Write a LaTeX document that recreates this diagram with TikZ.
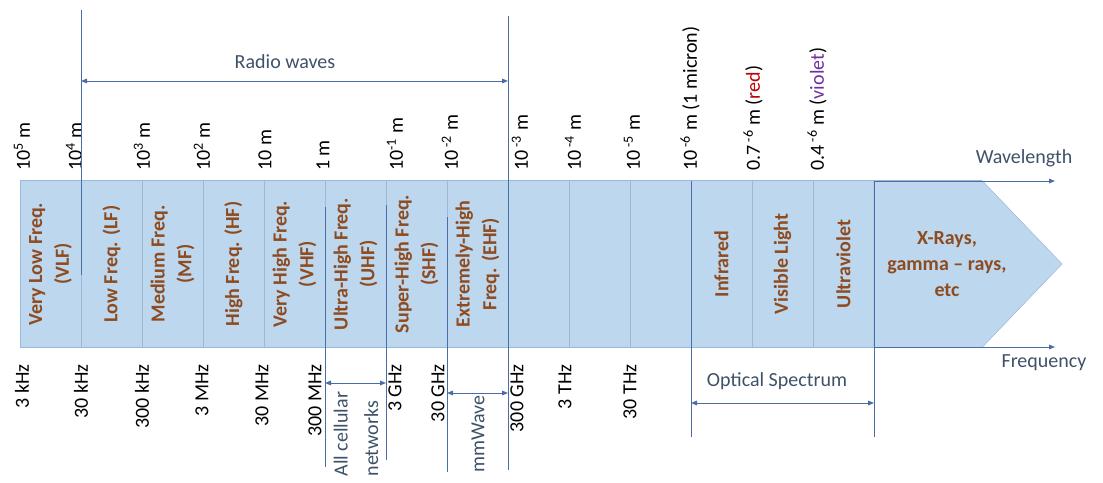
\documentclass[tikz,border=0pt]{standalone}
\usepackage{fontspec}
\setmainfont{Carlito}
\usepackage{xcolor}
\usepackage{tikz}
\usetikzlibrary{arrows.meta}

\definecolor{bandfill}{HTML}{BDD7EE}
\definecolor{bandedge}{HTML}{9FB8D8}
\definecolor{axisblue}{HTML}{4A6DA7}
\definecolor{labelbrown}{HTML}{8E4B1F}
\definecolor{notegray}{HTML}{3E5169}
\definecolor{redtxt}{HTML}{C00000}
\definecolor{violettxt}{HTML}{7030A0}

\begin{document}
\begin{tikzpicture}[x=0.75pt, y=-0.75pt,
    font=\fontsize{15pt}{18pt}\selectfont,
    band/.style={draw=bandedge, fill=bandfill, rotate=90, minimum width=125.25pt,
        minimum height=45.75pt, inner sep=0pt, outer sep=0pt, align=center,
        text=labelbrown, font=\fontsize{15pt}{20pt}\selectfont\bfseries},
    wl/.style={rotate=90, anchor=west, inner sep=0pt},
    fq/.style={rotate=90, anchor=east, inner sep=0pt},
    guide/.style={axisblue, line width=0.7pt},
    span/.style={axisblue, line width=0.7pt,
        {Triangle[length=4.5pt,width=3.5pt]}-{Triangle[length=4.5pt,width=3.5pt]}},
    ray/.style={axisblue, line width=0.7pt, -{Triangle[length=4.5pt,width=3.5pt]}},
    note/.style={text=notegray, inner sep=1pt}]

    % Cornice
    \useasboundingbox (0,0) rectangle (1103,482);

    % Bande dello spettro
    \node[band] (vlf) at (50.5,264) {Very Low Freq.\\(VLF)};
    \node[band] (lf) at (111.5,264) {Low Freq. (LF)};
    \node[band] (mf) at (172.5,264) {Medium Freq.\\(MF)};
    \node[band] (hf) at (233.5,264) {High Freq. (HF)};
    \node[band] (vhf) at (294.5,264) {Very High Freq.\\(VHF)};
    \node[band] (uhf) at (355.5,264) {Ultra-High Freq.\\(UHF)};
    \node[band] (shf) at (416.5,264) {Super-High Freq.\\(SHF)};
    \node[band] (ehf) at (477.5,264) {Extremely-High\\Freq. (EHF)};
    \node[band] (thz1) at (538.5,264) {};
    \node[band] (thz2) at (599.5,264) {};
    \node[band] (thz3) at (660.5,264) {};
    \node[band] (ir) at (721.5,264) {Infrared};
    \node[band] (vis) at (782.5,264) {Visible Light};
    \node[band] (uv) at (843.5,264) {Ultraviolet};

    % Punta della freccia
    \filldraw[fill=bandfill, draw=bandedge] (874,180.5) -- (982,180.5) -- (1062,264)
        -- (982,347.5) -- (874,347.5) -- cycle;
    \node[align=center, text=labelbrown, font=\fontsize{15pt}{19.5pt}\selectfont\bfseries]
        (xray) at (947,264) {X-Rays,\\gamma -- rays,\\etc};

    % Lunghezze d'onda
    \node[wl] (w5) at (22,171) {10\textsuperscript{5} m};
    \node[wl] (w4) at (74,171) {10\textsuperscript{4} m};
    \node[wl] (w3) at (142,171) {10\textsuperscript{3} m};
    \node[wl] (w2) at (202,171) {10\textsuperscript{2} m};
    \node[wl] (w1) at (265,171) {10 m};
    \node[wl] (w0) at (323,171) {1 m};
    \node[wl] (wm1) at (395,171) {10\textsuperscript{-1} m};
    \node[wl] (wm2) at (450,171) {10\textsuperscript{ -2} m};
    \node[wl] (wm3) at (520,171) {10\textsuperscript{ -3} m};
    \node[wl] (wm4) at (573,171) {10\textsuperscript{ -4} m};
    \node[wl] (wm5) at (632,171) {10\textsuperscript{ -5} m};
    \node[wl] (wm6) at (690,171) {10\textsuperscript{ -6} m (1 micron)};
    \node[wl] (wred) at (753,171) {0.7\textsuperscript{ -6} m (\textcolor{redtxt}{red})};
    \node[wl] (wviol) at (817,171) {0.4\textsuperscript{ -6} m (\textcolor{violettxt}{violet})};

    % Frequenze
    \node[fq] (f3k) at (22,364) {3 kHz};
    \node[fq] (f30k) at (81,364) {30 kHz};
    \node[fq] (f300k) at (142,364) {300 kHz};
    \node[fq] (f3m) at (202,364) {3 MHz};
    \node[fq] (f30m) at (262,364) {30 MHz};
    \node[fq] (f300m) at (315,364) {300 MHz};
    \node[fq] (f3g) at (395,364) {3 GHz};
    \node[fq] (f30g) at (438,364) {30 GHz};
    \node[fq] (f300g) at (517,364) {300 GHz};
    \node[fq] (f3t) at (565,364) {3 THz};
    \node[fq] (f30t) at (630,364) {30 THz};

    % Linee di riferimento
    \coordinate (lfT) at (81,10);    \coordinate (lfB) at (81,275);
    \coordinate (ehfT) at (508,16);  \coordinate (ehfB) at (508,470);
    \coordinate (uhfT) at (325,207); \coordinate (uhfB) at (325,467);
    \coordinate (shfT) at (386,205); \coordinate (shfB) at (386,460);
    \coordinate (mmT) at (447,217);  \coordinate (mmB) at (447,472);
    \coordinate (irT) at (691,181);  \coordinate (irB) at (691,437);
    \coordinate (xrT) at (874,181);  \coordinate (xrB) at (874,437);
    \draw[guide] (lfT) -- (lfB);
    \draw[guide] (ehfT) -- (ehfB);
    \draw[guide] (uhfT) -- (uhfB);
    \draw[guide] (shfT) -- (shfB);
    \draw[guide] (mmT) -- (mmB);
    \draw[guide] (irT) -- (irB);
    \draw[guide] (xrT) -- (xrB);

    % Intervalli
    \coordinate (rw1) at (81,81);   \coordinate (rw2) at (508,81);
    \coordinate (cn1) at (325,383); \coordinate (cn2) at (386,383);
    \coordinate (mw1) at (447,393); \coordinate (mw2) at (508,393);
    \coordinate (op1) at (691,403); \coordinate (op2) at (874,403);
    \draw[span] (rw1) -- (rw2);
    \draw[span] (cn1) -- (cn2);
    \draw[span] (mw1) -- (mw2);
    \draw[span] (op1) -- (op2);
    \node[note] (radio) at (285,62) {Radio waves};
    \node[note, rotate=90, anchor=west, align=left, font=\fontsize{15pt}{23pt}\selectfont]
        (cell) at (356,478) {All cellular\\networks};
    \node[note, rotate=90, anchor=west] (mmw) at (478,474) {mmWave};
    \node[note] (optic) at (777,381) {Optical Spectrum};

    % Assi a destra
    \coordinate (wlEnd) at (1055,181);
    \coordinate (fqEnd) at (1055,347);
    \draw[ray] (xrT) -- (wlEnd);
    \draw[ray] (xrT |- fqEnd) -- (fqEnd);
    \node[note] (wlen) at (1024,158) {Wavelength};
    \node[note] (freq) at (1044,363) {Frequency};
\end{tikzpicture}
\end{document}
